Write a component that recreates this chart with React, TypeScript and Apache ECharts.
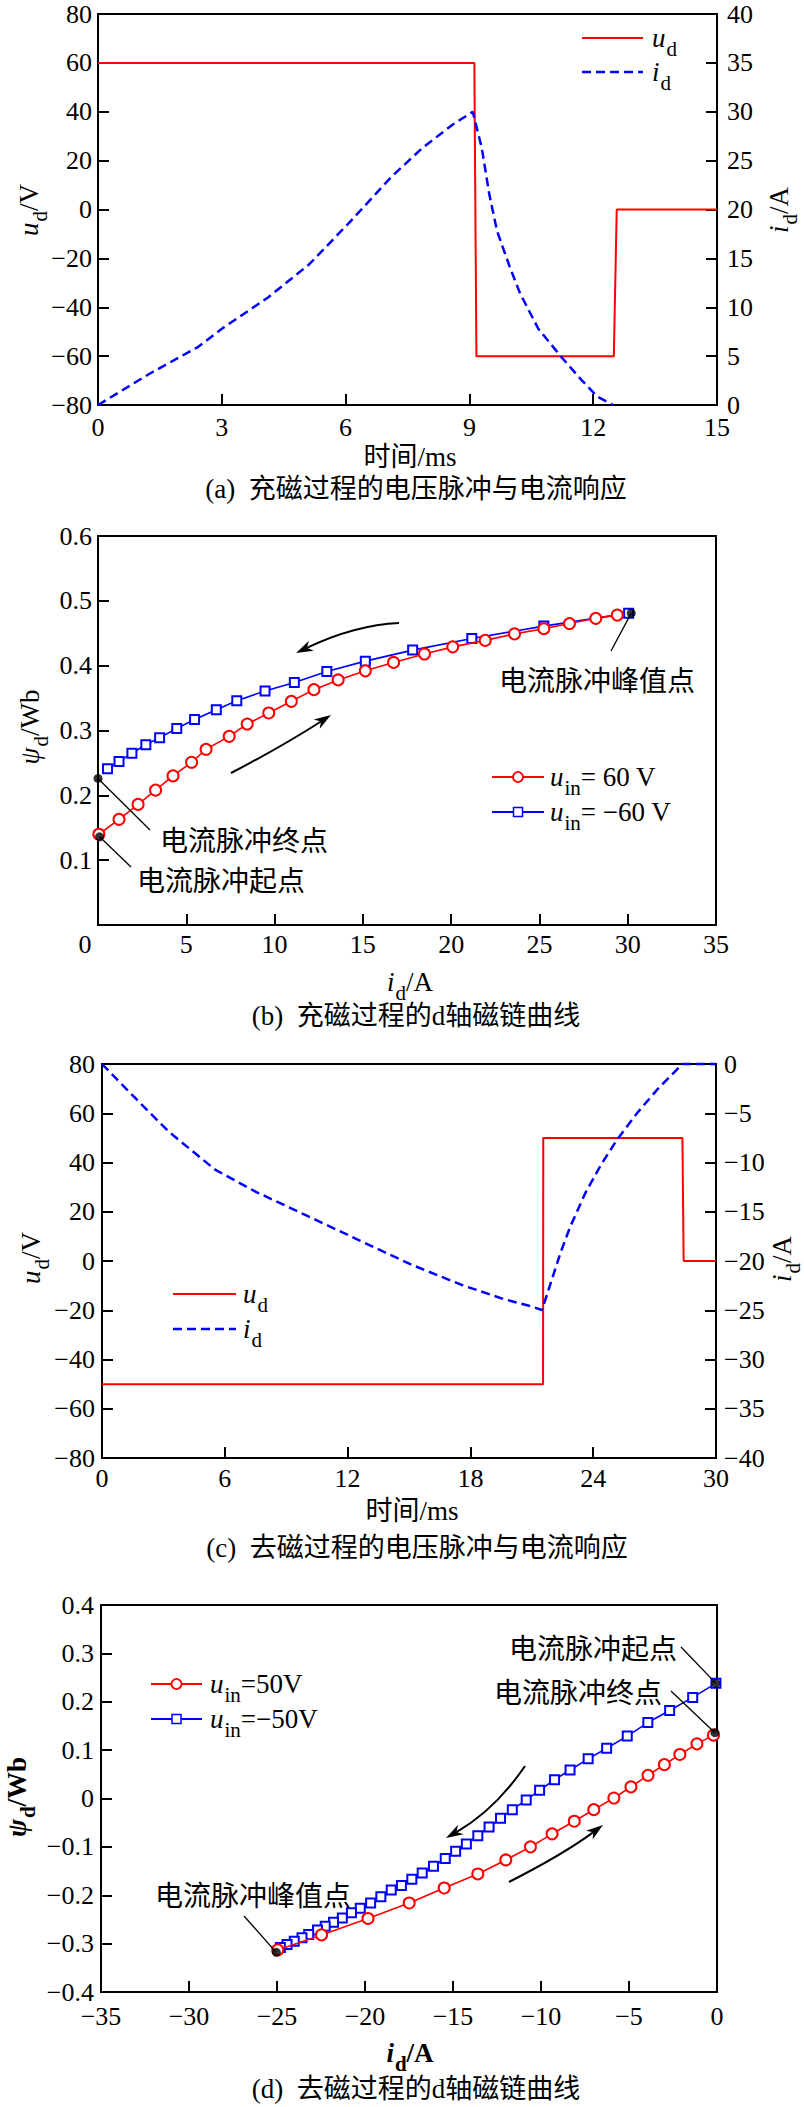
import React, { useEffect, useRef } from 'react';
import * as echarts from 'echarts';

const SERIF = "'Liberation Serif','Times New Roman','Noto Sans CJK SC',serif";
const CJK = "'Noto Sans CJK SC','Liberation Serif',sans-serif";
const RED = '#ff0000';
const BLUE = '#0000ff';

// ---------- (a) magnetizing: voltage pulse and current response ----------
const aUdTime = [0, 9.12, 9.17, 12.5, 12.57, 15];
const aUdVolt = [60, 60, -60, -60, 0, 0];
const aIdTime = [0, 1.25, 2.43, 3.0, 4.12, 5.12, 6.1, 7.1, 7.86, 8.6, 9.08, 9.3, 9.48, 9.67, 9.98, 10.23, 10.67, 11.23, 11.73, 12.1, 12.48];
const aIdAmp = [0, 3.2, 5.95, 7.8, 11.0, 14.4, 18.7, 23.3, 26.3, 28.7, 30.0, 26.3, 21.6, 17.8, 14.1, 11.4, 7.8, 4.9, 2.5, 0.85, 0];

// ---------- (b) magnetizing d-axis flux linkage ----------
const bPosI = [0.05, 1.19, 2.27, 3.26, 4.25, 5.3, 6.12, 7.43, 8.45, 9.67, 10.95, 12.23, 13.6, 15.14, 16.74, 18.49, 20.09, 21.93, 23.59, 25.25, 26.7, 28.19, 29.41];
const bPosPsi = [0.14, 0.163, 0.186, 0.208, 0.23, 0.251, 0.271, 0.291, 0.31, 0.327, 0.345, 0.363, 0.378, 0.392, 0.405, 0.418, 0.429, 0.439, 0.449, 0.457, 0.465, 0.473, 0.478];
const bNegI = [30.05, 25.25, 21.17, 17.82, 15.14, 12.96, 11.12, 9.46, 7.86, 6.7, 5.47, 4.46, 3.49, 2.71, 1.92, 1.19, 0.54];
const bNegPsi = [0.481, 0.461, 0.442, 0.424, 0.407, 0.391, 0.374, 0.361, 0.346, 0.332, 0.317, 0.303, 0.289, 0.278, 0.265, 0.252, 0.241];
const bDotI = [0.09, 0, 30.2];
const bDotPsi = [0.136, 0.226, 0.481];

// ---------- (c) demagnetizing: voltage pulse and current response ----------
const cUdTime = [0, 21.55, 21.56, 28.36, 28.42, 30];
const cUdVolt = [-50, -50, 50, 50, 0, 0];
const cIdTime = [0, 1.51, 3.27, 5.53, 7.54, 10.06, 12.57, 15.09, 17.6, 19.61, 20.87, 21.5, 22.0, 22.38, 22.88, 23.64, 24.39, 25.14, 26.15, 27.16, 28.16, 28.36, 30];
const cIdAmp = [0, -3.22, -6.89, -10.73, -13.0, -15.45, -17.9, -20.35, -22.45, -23.85, -24.55, -24.97, -21.75, -19.3, -16.5, -13.0, -10.2, -7.76, -4.97, -2.52, -0.42, 0, 0];

// ---------- (d) demagnetizing d-axis flux linkage ----------
const dPosI = [-0.2, -1.14, -2.11, -2.99, -3.92, -4.89, -5.86, -7.0, -8.11, -9.37, -10.6, -12.0, -13.59, -15.5, -17.49, -19.83, -22.47, -24.96];
const dPosPsi = [0.131, 0.113, 0.091, 0.07, 0.048, 0.024, 0.001, -0.023, -0.047, -0.073, -0.1, -0.127, -0.156, -0.185, -0.216, -0.248, -0.282, -0.313];
const dNegI = [-0.06, -1.38, -2.69, -3.93, -5.1, -6.27, -7.32, -8.35, -9.23, -10.08, -10.84, -11.63, -12.3, -12.95, -13.59, -14.24, -14.85, -15.44, -16.11, -16.75, -17.34, -17.93, -18.51, -19.1, -19.68, -20.27, -20.77, -21.29, -21.79, -22.26, -22.7, -23.2, -23.58, -24.02, -24.43, -24.81];
const dNegPsi = [0.238, 0.209, 0.182, 0.157, 0.129, 0.104, 0.082, 0.059, 0.039, 0.017, -0.003, -0.023, -0.041, -0.059, -0.077, -0.094, -0.109, -0.124, -0.14, -0.154, -0.167, -0.18, -0.189, -0.203, -0.216, -0.227, -0.236, -0.247, -0.256, -0.264, -0.272, -0.281, -0.288, -0.295, -0.302, -0.308];
const dDotI = [-0.06, -0.12, -25.04];
const dDotPsi = [0.238, 0.136, -0.318];

const zip = (a: number[], b: number[]) => a.map((x, i) => [x, b[i]]);

const fmt = (dec: number, opts: { hideZero?: boolean; zeroShift?: boolean } = {}) => (v: number) => {
  if (Math.abs(v) < 1e-9) {
    if (opts.hideZero) return '';
    if (opts.zeroShift) return '{z|0}';
    return '0';
  }
  return v.toFixed(dec).replace('-', '\u2212');
};

function vAxis(o: any) {
  return {
    type: 'value',
    gridIndex: o.gridIndex,
    min: o.min,
    max: o.max,
    interval: o.interval,
    position: o.position,
    axisLine: { show: true, onZero: false, lineStyle: { color: '#000', width: 2 } },
    axisTick: { show: true, inside: true, length: 11, lineStyle: { color: '#000', width: 2 } },
    splitLine: { show: false },
    axisLabel: {
      show: true,
      color: '#000',
      fontFamily: SERIF,
      fontSize: 26,
      margin: o.margin,
      formatter: o.formatter,
      rich: { z: { color: '#000', fontFamily: SERIF, fontSize: 26, padding: [0, 26, 0, 0] } },
    },
  };
}

const gridBox = (left: number, top: number, width: number, height: number) => ({
  left, top, width, height, show: true, borderColor: '#000', borderWidth: 2,
  backgroundColor: 'transparent', containLabel: false, outerBoundsMode: 'none',
});

function buildOption() {
  return {
    animation: false,
    backgroundColor: '#fff',
    grid: [
      gridBox(98, 14, 619, 391),
      gridBox(98, 536, 618, 389),
      gridBox(102, 1064, 614, 394),
      gridBox(101, 1605, 616, 387),
    ],
    xAxis: [
      vAxis({ gridIndex: 0, min: 0, max: 15, interval: 3, margin: 9, formatter: fmt(0) }),
      vAxis({ gridIndex: 1, min: 0, max: 35, interval: 5, margin: 6, formatter: fmt(0, { zeroShift: true }) }),
      vAxis({ gridIndex: 2, min: 0, max: 30, interval: 6, margin: 7, formatter: fmt(0) }),
      vAxis({ gridIndex: 3, min: -35, max: 0, interval: 5, margin: 11, formatter: fmt(0) }),
    ],
    yAxis: [
      vAxis({ gridIndex: 0, min: -80, max: 80, interval: 20, margin: 6, formatter: fmt(0) }),
      vAxis({ gridIndex: 0, min: 0, max: 40, interval: 5, margin: 10, position: 'right', formatter: fmt(0) }),
      vAxis({ gridIndex: 1, min: 0, max: 0.6, interval: 0.1, margin: 6, formatter: fmt(1, { hideZero: true }) }),
      vAxis({ gridIndex: 2, min: -80, max: 80, interval: 20, margin: 7, formatter: fmt(0) }),
      vAxis({ gridIndex: 2, min: -40, max: 0, interval: 5, margin: 8, position: 'right', formatter: fmt(0) }),
      vAxis({ gridIndex: 3, min: -0.4, max: 0.4, interval: 0.1, margin: 7, formatter: fmt(1) }),
    ],
    series: [
      { name: 'ud_a', type: 'line', xAxisIndex: 0, yAxisIndex: 0, data: zip(aUdTime, aUdVolt), symbol: 'none', clip: false, lineStyle: { color: RED, width: 2 }, itemStyle: { color: RED }, z: 3 },
      { name: 'id_a', type: 'line', xAxisIndex: 0, yAxisIndex: 1, data: zip(aIdTime, aIdAmp), symbol: 'none', clip: false, lineStyle: { color: BLUE, width: 2.5, type: [9, 5] }, itemStyle: { color: BLUE }, z: 4 },
      { name: 'pos_b', type: 'line', xAxisIndex: 1, yAxisIndex: 2, data: zip(bPosI, bPosPsi), symbol: 'emptyCircle', symbolSize: 11, showSymbol: true, showAllSymbol: true, clip: false, lineStyle: { color: RED, width: 1.6 }, itemStyle: { color: RED, borderWidth: 1.8 }, z: 4 },
      { name: 'neg_b', type: 'line', xAxisIndex: 1, yAxisIndex: 2, data: zip(bNegI, bNegPsi), symbol: 'emptyRect', symbolSize: 9, showSymbol: true, showAllSymbol: true, clip: false, lineStyle: { color: BLUE, width: 1.6 }, itemStyle: { color: BLUE, borderWidth: 1.5 }, z: 3 },
      { name: 'dots_b', type: 'scatter', xAxisIndex: 1, yAxisIndex: 2, data: zip(bDotI, bDotPsi), symbol: 'circle', symbolSize: 9, clip: false, itemStyle: { color: '#000' }, z: 6 },
      { name: 'ud_c', type: 'line', xAxisIndex: 2, yAxisIndex: 3, data: zip(cUdTime, cUdVolt), symbol: 'none', clip: false, lineStyle: { color: RED, width: 2 }, itemStyle: { color: RED }, z: 3 },
      { name: 'id_c', type: 'line', xAxisIndex: 2, yAxisIndex: 4, data: zip(cIdTime, cIdAmp), symbol: 'none', clip: false, lineStyle: { color: BLUE, width: 2.5, type: [9, 5] }, itemStyle: { color: BLUE }, z: 4 },
      { name: 'pos_d', type: 'line', xAxisIndex: 3, yAxisIndex: 5, data: zip(dPosI, dPosPsi), symbol: 'emptyCircle', symbolSize: 11, showSymbol: true, showAllSymbol: true, clip: false, lineStyle: { color: RED, width: 1.6 }, itemStyle: { color: RED, borderWidth: 1.8 }, z: 4 },
      { name: 'neg_d', type: 'line', xAxisIndex: 3, yAxisIndex: 5, data: zip(dNegI, dNegPsi), symbol: 'emptyRect', symbolSize: 9, showSymbol: true, showAllSymbol: true, clip: false, lineStyle: { color: BLUE, width: 1.6 }, itemStyle: { color: BLUE, borderWidth: 1.5 }, z: 3 },
      { name: 'dots_d', type: 'scatter', xAxisIndex: 3, yAxisIndex: 5, data: zip(dDotI, dDotPsi), symbol: 'circle', symbolSize: 9, clip: false, itemStyle: { color: '#000' }, z: 6 },
    ],
  };
}

function richSet(size: number, sub: number, bold = false) {
  const w = bold ? 'bold' : 'normal';
  return {
    it: { fontFamily: SERIF, fontSize: size, fontStyle: 'italic', fontWeight: w, lineHeight: size, fill: '#000' },
    rm: { fontFamily: SERIF, fontSize: size, fontWeight: w, lineHeight: size, fill: '#000' },
    sb: { fontFamily: SERIF, fontSize: sub, fontWeight: w, lineHeight: 12, padding: [sub, 0, 0, 1], fill: '#000' },
  };
}

function rtext(x: number, y: number, text: string, o: any = {}) {
  const size = o.size || 27;
  return {
    type: 'text', x, y, rotation: o.rot || 0, silent: true, z: 100,
    style: {
      text, rich: richSet(size, o.sub || 21, o.bold), align: o.align || 'center', verticalAlign: 'middle',
      fill: '#000', fontFamily: SERIF, fontSize: size, fontWeight: o.bold ? 'bold' : 'normal', lineHeight: size,
    },
  };
}

function ptext(x: number, y: number, text: string, o: any = {}) {
  return {
    type: 'text', x, y, silent: true, z: 100,
    style: {
      text, align: o.align || 'center', verticalAlign: 'middle', fill: '#000',
      fontFamily: o.family || SERIF, fontSize: o.size || 27, fontWeight: o.bold ? 'bold' : 'normal',
    },
  };
}

function legLine(x1: number, x2: number, y: number, color: string, dash: number[] | null, marker?: 'circle' | 'rect') {
  const els: any[] = [
    { type: 'line', silent: true, z: 100, shape: { x1, y1: y, x2, y2: y }, style: { stroke: color, lineWidth: dash ? 2.5 : 2, lineDash: dash || undefined } },
  ];
  const cx = (x1 + x2) / 2;
  if (marker === 'circle') {
    els.push({ type: 'circle', silent: true, z: 101, shape: { cx, cy: y, r: 5 }, style: { fill: '#fff', stroke: color, lineWidth: 1.8 } });
  } else if (marker === 'rect') {
    els.push({ type: 'rect', silent: true, z: 101, shape: { x: cx - 4.5, y: y - 4.5, width: 9, height: 9 }, style: { fill: '#fff', stroke: color, lineWidth: 1.5 } });
  }
  return els;
}

function arrow(x1: number, y1: number, cx: number, cy: number, x2: number, y2: number) {
  const dx = x2 - cx, dy = y2 - cy;
  const len = Math.hypot(dx, dy);
  const ux = dx / len, uy = dy / len;
  const L = 17, W = 5.5;
  const bx = x2 - ux * L, by = y2 - uy * L;
  const nx = bx + ux * 5, ny = by + uy * 5;
  return [
    { type: 'bezierCurve', silent: true, z: 100, shape: { x1, y1, x2: nx, y2: ny, cpx1: cx, cpy1: cy }, style: { stroke: '#000', lineWidth: 2, fill: null } },
    { type: 'polygon', silent: true, z: 100, shape: { points: [[x2, y2], [bx - uy * W, by + ux * W], [nx, ny], [bx + uy * W, by - ux * W]] }, style: { fill: '#000' } },
  ];
}

function leader(p: number[], x2: number, y2: number) {
  return { type: 'line', silent: true, z: 99, shape: { x1: p[0], y1: p[1], x2, y2 }, style: { stroke: '#000', lineWidth: 1.3 } };
}

function buildGraphic(chart: any) {
  const px = (si: number, pt: number[]) => chart.convertToPixel({ seriesIndex: si }, pt) as number[];
  const els: any[] = [];

  // ----- (a)
  els.push(rtext(29, 210, '{it|u}{sb|d}{rm|/V}', { rot: Math.PI / 2 }));
  els.push(rtext(779, 210, '{it|i}{sb|d}{rm|/A}', { rot: Math.PI / 2 }));
  els.push(ptext(410, 457, '时间/ms'));
  els.push(ptext(416, 489, '(a)  充磁过程的电压脉冲与电流响应'));
  els.push(...legLine(582, 643, 38, RED, null));
  els.push(rtext(652, 38, '{it|u}{sb|d}', { align: 'left' }));
  els.push(...legLine(582, 643, 72, BLUE, [9, 5]));
  els.push(rtext(652, 72, '{it|i}{sb|d}', { align: 'left' }));

  // ----- (b)
  els.push(rtext(30, 727, '{it|ψ}{sb|d}{rm|/Wb}', { rot: Math.PI / 2 }));
  els.push(rtext(410, 982, '{it|i}{sb|d}{rm|/A}'));
  els.push(ptext(416, 1016, '(b)  充磁过程的d轴磁链曲线'));
  els.push(...legLine(492, 544, 777, RED, null, 'circle'));
  els.push(rtext(550, 777, '{it|u}{sb|in}{rm|= 60 V}', { align: 'left' }));
  els.push(...legLine(492, 544, 812, BLUE, null, 'rect'));
  els.push(rtext(550, 812, '{it|u}{sb|in}{rm|= \u221260 V}', { align: 'left' }));
  els.push(ptext(499, 679, '电流脉冲峰值点', { align: 'left', size: 28, family: CJK }));
  els.push(ptext(160, 839, '电流脉冲终点', { align: 'left', size: 28, family: CJK }));
  els.push(ptext(137, 879, '电流脉冲起点', { align: 'left', size: 28, family: CJK }));
  els.push(leader(px(4, [bDotI[2], bDotPsi[2]]), 611, 651));
  els.push(leader(px(4, [bDotI[1], bDotPsi[1]]), 150, 830));
  els.push(leader(px(4, [bDotI[0], bDotPsi[0]]), 131, 867));
  els.push(...arrow(399, 623, 355, 625, 296, 653));
  els.push(...arrow(231, 773, 283, 746, 331, 715));

  // ----- (c)
  els.push(rtext(31, 1258, '{it|u}{sb|d}{rm|/V}', { rot: Math.PI / 2 }));
  els.push(rtext(782, 1259, '{it|i}{sb|d}{rm|/A}', { rot: Math.PI / 2 }));
  els.push(ptext(412, 1511, '时间/ms'));
  els.push(ptext(417, 1548, '(c)  去磁过程的电压脉冲与电流响应'));
  els.push(...legLine(173, 236, 1294, RED, null));
  els.push(rtext(243, 1294, '{it|u}{sb|d}', { align: 'left' }));
  els.push(...legLine(173, 236, 1329, BLUE, [9, 5]));
  els.push(rtext(243, 1329, '{it|i}{sb|d}', { align: 'left' }));

  // ----- (d)
  els.push(rtext(17, 1797, '{it|ψ}{sb|d}{rm|/Wb}', { rot: Math.PI / 2, bold: true }));
  els.push(rtext(410, 2053, '{it|i}{sb|d}{rm|/A}', { bold: true }));
  els.push(ptext(416, 2089, '(d)  去磁过程的d轴磁链曲线'));
  els.push(...legLine(151, 202, 1684, RED, null, 'circle'));
  els.push(rtext(210, 1684, '{it|u}{sb|in}{rm|=50V}', { align: 'left' }));
  els.push(...legLine(151, 202, 1719, BLUE, null, 'rect'));
  els.push(rtext(210, 1719, '{it|u}{sb|in}{rm|=\u221250V}', { align: 'left' }));
  els.push(ptext(509, 1647, '电流脉冲起点', { align: 'left', size: 28, family: CJK }));
  els.push(ptext(494, 1691, '电流脉冲终点', { align: 'left', size: 28, family: CJK }));
  els.push(ptext(155, 1894, '电流脉冲峰值点', { align: 'left', size: 28, family: CJK }));
  els.push(leader(px(9, [dDotI[0], dDotPsi[0]]), 681, 1647));
  els.push(leader(px(9, [dDotI[1], dDotPsi[1]]), 671, 1691));
  els.push(leader(px(9, [dDotI[2], dDotPsi[2]]), 244, 1916));
  els.push(...arrow(525, 1766, 495, 1810, 446, 1838));
  els.push(...arrow(509, 1882, 564, 1854, 603, 1825));

  return els;
}

export default function App() {
  const ref = useRef<HTMLDivElement>(null);
  useEffect(() => {
    document.body.style.margin = '0';
    const chart = echarts.init(ref.current as HTMLDivElement, null, { renderer: 'svg' });
    chart.setOption(buildOption() as any);
    chart.setOption({ graphic: buildGraphic(chart) } as any);
    return () => chart.dispose();
  }, []);
  return <div ref={ref} style={{ width: 804, height: 2107, background: '#fff' }} />;
}
